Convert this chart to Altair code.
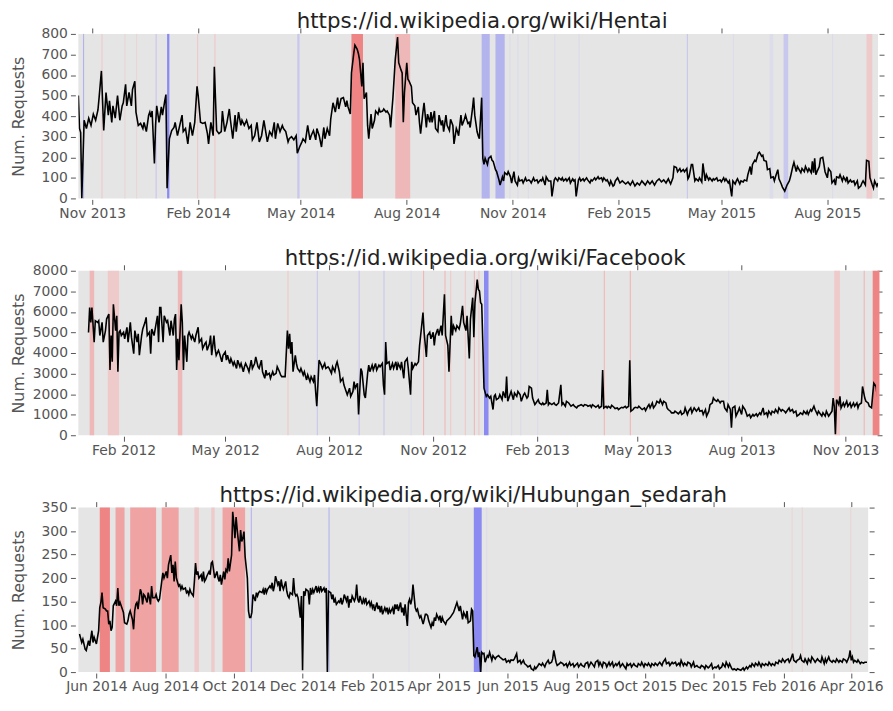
import altair as alt
import pandas as pd

DAY_MS = 86400000

# ---------------- Panel 1 : Hentai ----------------
p1_title = "https://id.wikipedia.org/wiki/Hentai"
p1_start = "2013-10-20"
p1_domain_days = (0, 694)
p1_series = [
    (0,500),(1,340),(2,320),(3,0),(5,380),(7,340),(9,390),(11,355),(13,410),(15,380),(17,430),(18,490),(20,620),
    (22,330),(24,515),(26,405),(27,475),(29,370),(30,450),(32,390),(34,500),(36,380),(38,450),(39,465),(41,555),
    (42,450),(44,515),(46,450),(47,530),(49,570),(50,420),(52,355),(54,365),(56,340),(57,370),(59,325),(61,405),
    (62,420),(63,395),(64,425),(66,170),(67,355),(68,450),(70,370),(72,445),(73,405),(75,475),(76,505),(77,50),
    (79,290),(81,330),(83,345),(84,370),(86,305),(88,355),(90,405),(91,325),(93,340),(95,265),(97,370),(99,305),
    (101,370),(103,545),(104,500),(106,370),(108,365),(110,370),(112,315),(113,265),(115,370),(117,305),(118,640),
    (120,330),(122,315),(124,325),(125,425),(127,325),(129,370),(131,435),(132,380),(134,290),(136,405),(137,325),
    (139,420),(141,355),(142,380),(144,355),(146,380),(148,340),(150,355),(151,285),(153,305),(155,370),(157,275),
    (159,305),(161,380),(162,345),(164,275),(166,325),(168,305),(170,370),(171,290),(173,365),(175,325),(177,355),
    (178,340),(180,325),(182,275),(183,290),(185,300),(187,285),(189,305),(190,220),(192,250),(194,275),(195,290),
    (197,275),(199,355),(201,285),(202,305),(204,330),(206,285),(207,340),(209,305),(211,250),(213,345),(214,290),
    (216,340),(218,305),(219,385),(221,465),(223,420),(225,490),(226,435),(228,485),(230,490),(232,445),(233,475),
    (234,445),(236,410),(237,610),(239,705),(240,745),(242,725),(243,705),(244,675),(246,545),(247,660),(248,485),
    (250,515),(251,355),(252,290),(254,410),(255,340),(257,380),(258,425),(260,410),(261,435),(262,420),(264,425),
    (265,435),(267,420),(268,425),(270,405),(271,345),(272,420),(273,490),(275,675),(277,785),(278,660),(280,625),
    (281,610),(282,370),(283,515),(285,660),(286,580),(287,570),(289,545),(290,465),(292,450),(293,405),(295,445),
    (296,370),(297,315),(299,420),(300,465),(302,345),(303,410),(305,370),(306,420),(307,370),(309,425),(310,340),
    (312,325),(313,405),(315,355),(316,380),(317,325),(319,405),(320,355),(322,330),(323,385),(325,355),(326,265),
    (328,340),(329,325),(330,305),(332,405),(333,355),(335,385),(336,405),(338,365),(339,370),(340,345),(342,435),
    (343,490),(344,405),(346,325),(347,305),(348,290),(350,490),(351,195),(352,165),(353,195),(355,165),(356,195),
    (358,205),(359,185),(360,180),(362,140),(363,130),(365,90),(366,65),(368,105),(369,85),(370,125),(372,115),
    (373,130),(375,105),(376,75),(378,130),(379,85),(381,65),(382,100),(383,85),(385,90),(386,75),(388,100),
    (389,85),(391,90),(392,85),(393,75),(395,100),(396,85),(398,90),(399,75),(401,90),(402,85),(403,100),(405,65),
    (406,105),(408,85),(410,85),(411,10),(413,90),(414,100),(416,85),(417,100),(419,90),(420,100),(421,85),(423,95),
    (424,85),(426,100),(427,75),(429,95),(430,85),(431,90),(432,10),(434,90),(435,100),(436,85),(438,95),(439,85),
    (441,100),(442,90),(444,75),(445,90),(446,85),(448,100),(449,90),(451,105),(452,95),(454,100),(455,85),(456,100),
    (458,85),(459,90),(461,65),(462,85),(464,60),(465,65),(466,85),(468,100),(470,75),(472,85),(475,70),(477,80),
    (479,65),(481,85),(483,60),(485,75),(487,65),(489,85),(492,65),(494,85),(496,70),(498,85),(500,65),(502,85),
    (504,95),(506,80),(508,90),(510,75),(512,95),(514,70),(516,100),(517,155),(519,150),(520,130),(522,145),(523,130),
    (525,140),(526,130),(528,145),(529,95),(530,105),(532,165),(533,165),(535,85),(536,95),(538,85),(539,100),(541,80),
    (542,170),(544,85),(545,115),(547,90),(548,100),(550,85),(551,95),(552,90),(554,100),(555,85),(557,90),(558,80),
    (560,100),(561,85),(562,95),(564,75),(565,85),(567,10),(568,85),(570,70),(571,85),(572,95),(574,70),(575,85),
    (577,80),(578,90),(580,85),(581,115),(583,155),(584,115),(585,165),(587,185),(588,180),(590,220),(591,225),
    (593,205),(594,210),(595,185),(597,180),(598,140),(600,145),(601,100),(603,105),(604,85),(605,105),(607,140),
    (608,95),(610,70),(611,55),(613,35),(614,50),(615,65),(617,85),(618,105),(620,155),(621,175),(623,130),(624,155),
    (626,135),(627,125),(628,145),(630,130),(631,155),(633,130),(634,145),(636,125),(637,180),(638,125),(639,195),
    (640,115),(641,130),(643,155),(644,195),(646,200),(647,165),(648,130),(650,100),(651,145),(653,130),(654,75),
    (656,90),(657,65),(658,105),(660,100),(661,115),(663,85),(664,105),(666,85),(667,105),(668,75),(670,90),(671,80),
    (673,85),(674,65),(676,85),(677,50),(679,60),(680,75),(681,85),(683,65),(684,185),(686,180),(687,100),(689,65),
    (690,50),(691,85),(693,60),(694,75),
]
p1_bands = [
    (4,5,"blue2"),(20,21,"red4"),(40,41,"red5"),(50,51,"red5"),(67,68,"blue3"),(77,79,"blue1"),(103,104,"red4"),
    (118,119,"red4"),(190,192,"blue3"),(237,247,"red1"),(275,288,"red3"),(350,357,"blue2"),(362,370,"blue2"),
    (374,375,"blue4"),(381,382,"blue4"),(390,391,"blue4"),(413,414,"blue4"),(434,435,"blue4"),(528,529,"blue3"),
    (568,569,"blue4"),(600,603,"blue4"),(612,616,"blue3"),(654,655,"blue4"),(684,689,"red4"),
]
p1_xticks = ["2013-11-01","2014-02-01","2014-05-01","2014-08-01","2014-11-01","2015-02-01","2015-05-01","2015-08-01"]
p1_yticks = [0,100,200,300,400,500,600,700,800]

# ---------------- Panel 2 : Facebook ----------------
p2_title = "https://id.wikipedia.org/wiki/Facebook"
p2_start = "2012-01-01"
p2_domain_days = (-9, 697)
p2_series = [
    (0,5000),(1,6210),(2,5490),(3,6210),(5,4530),(6,5570),(8,5490),(9,5570),(10,4850),(12,5490),(13,4530),(15,5090),
    (16,5650),(18,5890),(19,3170),(20,4850),(21,3570),(22,6370),(24,5090),(25,5810),(26,3090),(27,5010),(28,5090),
    (29,4850),(31,5010),(32,4690),(34,5250),(35,4530),(37,5490),(38,4770),(40,3970),(41,5090),(43,4530),(44,4930),
    (45,3890),(47,4850),(48,5170),(50,5490),(51,5730),(52,4850),(54,5010),(55,3970),(56,5170),(58,4850),(59,5170),
    (61,5810),(62,4530),(63,6210),(64,6210),(66,4530),(67,5810),(69,5490),(70,5570),(72,4850),(73,5570),(75,4850),
    (76,5650),(77,5890),(78,3170),(79,4690),(80,3650),(82,6370),(83,5490),(84,3170),(85,4850),(87,3570),(88,4850),
    (89,5010),(91,4690),(92,4850),(94,4530),(95,4850),(97,5250),(98,4530),(100,4690),(101,4210),(103,4450),(104,4530),
    (105,4130),(107,4450),(108,4850),(109,3890),(111,4850),(112,4210),(113,3890),(115,4130),(116,3970),(118,3570),
    (119,3890),(121,4050),(122,3650),(123,3890),(125,3490),(126,3730),(128,3410),(129,3570),(131,3250),(132,3650),
    (134,3330),(135,3490),(137,3090),(138,3330),(139,3490),(141,3250),(142,3090),(144,3650),(145,3250),(147,3490),
    (148,3810),(150,3330),(151,3250),(153,3650),(154,3090),(156,2770),(157,3170),(158,2930),(160,3010),(161,2770),
    (163,3090),(164,2930),(166,3010),(167,3330),(169,3090),(170,2930),(171,2850),(173,2850),(174,2850),(176,5090),
    (177,4210),(178,4930),(179,3970),(180,4530),(181,3090),(183,3890),(184,3490),(185,3250),(187,3090),(188,3250),
    (190,2930),(191,3090),(193,2690),(194,2930),(196,2610),(197,2850),(199,2610),(200,2930),(201,2130),(202,1410),
    (203,2450),(204,3650),(206,3410),(207,3250),(209,3490),(210,3250),(212,3330),(213,3250),(215,3010),(216,3330),
    (218,3090),(219,3410),(220,3570),(222,3090),(223,2610),(225,2770),(226,2450),(228,2130),(229,1970),(231,2290),
    (232,1890),(234,2130),(235,2610),(236,2290),(238,2530),(239,1010),(241,3250),(242,3090),(244,1970),(245,1810),
    (247,3010),(248,3410),(249,3090),(251,3410),(252,3170),(254,3490),(255,3170),(257,3410),(258,3330),(260,3490),
    (261,2450),(262,1970),(263,4530),(264,3490),(266,3570),(267,3170),(269,3490),(270,3250),(272,3570),(273,3170),
    (274,3490),(276,3250),(277,3570),(279,2770),(280,3570),(282,3730),(283,3250),(285,1970),(286,3570),(287,3250),
    (289,3490),(290,3410),(292,3570),(293,4370),(295,5410),(296,5970),(297,5010),(299,3810),(300,4850),(302,5010),
    (303,4690),(305,5010),(306,4370),(307,4850),(309,5170),(310,4850),(312,5330),(313,4850),(315,6850),(316,4850),
    (318,4370),(319,3090),(321,5810),(322,4850),(323,5330),(325,5090),(326,5330),(328,5170),(329,5410),(331,6290),
    (332,5490),(334,5090),(335,5810),(337,3730),(338,5650),(340,6690),(341,4770),(342,6450),(344,7570),(345,7090),
    (346,7010),(347,6450),(348,6370),(349,4370),(350,2290),(352,1890),(353,1970),(355,1810),(356,1890),(358,1250),
    (359,1890),(360,1970),(361,1730),(363,1810),(364,1970),(366,1730),(367,2130),(369,1810),(370,2850),(371,1650),
    (373,1970),(374,2130),(376,1730),(377,2050),(379,1890),(380,2130),(382,1970),(383,1650),(385,1970),(386,2050),
    (388,1810),(389,1890),(390,2370),(392,2290),(393,1810),(395,1490),(396,1570),(398,1730),(399,1570),(401,1490),
    (402,1570),(403,1490),(405,1570),(406,2210),(407,1490),(408,1570),(410,1490),(412,1570),(413,1490),(414,1460),
    (416,1570),(418,2450),(419,1490),(420,1570),(422,1410),(423,1650),(425,1570),(426,1490),(427,1410),(429,1490),
    (430,1410),(432,1330),(433,1410),(435,1460),(436,1490),(438,1410),(439,1490),(441,1460),(442,1410),(444,1460),
    (445,1360),(446,1490),(448,1410),(449,1360),(451,1460),(452,1330),(454,1410),(455,3170),(456,1330),(458,1410),
    (459,1330),(460,1410),(462,1330),(463,1460),(465,1360),(466,1300),(468,1330),(469,1250),(471,1330),(472,1360),
    (473,1330),(475,1410),(476,1330),(478,1410),(479,3650),(480,1170),(482,1250),(483,1330),(484,1360),(486,1330),
    (487,1410),(489,1300),(490,1250),(492,1330),(493,1200),(495,1410),(496,1490),(497,1330),(499,1570),(500,1330),
    (502,1490),(503,1650),(505,1570),(506,1730),(508,1490),(509,1650),(511,1570),(512,1330),(513,1250),(515,1170),
    (516,1090),(518,1090),(519,1170),(521,1090),(522,1040),(524,1170),(525,1010),(527,1090),(528,1330),(530,1010),
    (531,1170),(533,1330),(534,1090),(536,1330),(537,1250),(538,1170),(540,1330),(541,1170),(543,1200),(544,1010),
    (546,1250),(547,930),(549,1170),(550,1490),(552,1570),(553,1810),(554,1730),(556,1650),(557,1730),(559,1570),
    (560,1650),(562,1650),(563,1330),(565,1170),(566,1490),(568,1250),(569,370),(570,1330),(572,1410),(573,930),
    (575,1170),(576,1330),(578,1010),(579,1410),(581,1250),(582,1090),(583,930),(585,1010),(586,850),(588,1010),
    (589,930),(591,1040),(592,930),(594,1090),(595,1010),(597,1330),(598,1010),(600,1090),(601,930),(602,1170),
    (604,1010),(605,1170),(607,1090),(608,1250),(610,1090),(611,1330),(613,1170),(614,1250),(616,1170),(617,1090),
    (619,1250),(620,1330),(621,1170),(623,1250),(624,1090),(626,1170),(627,930),(629,1010),(630,1090),(632,1010),
    (633,1170),(635,1040),(636,1170),(637,1010),(639,1250),(640,1170),(642,1410),(643,1250),(645,1010),(646,1170),
    (648,1010),(649,930),(650,1090),(652,930),(653,1170),(655,930),(656,1010),(658,1170),(659,1810),(660,1410),
    (661,50),(662,1730),(664,1490),(665,1890),(666,1330),(668,1570),(669,1410),(671,1650),(672,1410),(674,1570),
    (675,1360),(677,1570),(678,1410),(680,1570),(681,1330),(682,1490),(684,1570),(685,2370),(687,1810),(688,1650),
    (690,1570),(691,1410),(693,1330),(694,1970),(695,2530),(697,2370),(698,1890),(699,2530),(700,2290),
]
p2_bands = [
    (1,5,"red3"),(17,27,"red4"),(79,83,"red3"),(176,177,"red4"),(202,203,"blue3"),(239,240,"blue3"),(261,262,"blue3"),
    (285,286,"blue4"),(296,297,"red3"),(315,316,"red3"),(320,321,"red4"),(333,334,"red4"),(341,342,"red3"),
    (345,346,"red4"),(350,354,"blue1"),(374,375,"blue4"),(382,383,"blue4"),(397,398,"blue4"),(456,457,"red3"),
    (479,480,"red3"),(566,567,"blue4"),(660,665,"red4"),(686,687,"red3"),(694,700,"red1"),
]
p2_xticks = ["2012-02-01","2012-05-01","2012-08-01","2012-11-01","2013-02-01","2013-05-01","2013-08-01","2013-11-01"]
p2_yticks = [0,1000,2000,3000,4000,5000,6000,7000,8000]

# ---------------- Panel 3 : Hubungan_sedarah ----------------
p3_title = "https://id.wikipedia.org/wiki/Hubungan_sedarah"
p3_start = "2014-05-17"
p3_domain_days = (-1, 700)
p3_series = [
    (0,81),(2,63),(3,70),(5,49),(6,46),(8,67),(9,56),(11,88),(12,63),(13,74),(15,60),(16,74),(17,88),(18,137),
    (19,148),(20,169),(21,137),(23,134),(24,130),(25,130),(26,102),(27,109),(28,88),(29,95),(30,141),(32,151),
    (33,141),(34,179),(35,141),(36,148),(38,134),(39,127),(40,105),(42,102),(43,109),(44,123),(45,130),(47,112),
    (48,91),(49,130),(50,144),(51,148),(52,134),(54,176),(55,169),(56,144),(57,165),(58,162),(60,148),(61,169),
    (62,158),(63,144),(64,183),(65,158),(67,158),(68,165),(69,155),(70,151),(71,155),(73,193),(74,211),(75,200),
    (76,207),(77,214),(78,200),(79,228),(81,249),(82,211),(83,228),(84,193),(85,235),(86,200),(88,183),(89,186),
    (90,176),(91,183),(92,176),(94,179),(95,169),(96,172),(97,165),(98,176),(99,169),(101,162),(102,193),(103,232),
    (104,207),(105,214),(106,200),(108,207),(109,193),(110,214),(111,193),(112,197),(113,204),(115,214),(116,207),
    (117,232),(118,235),(119,218),(120,200),(122,214),(123,200),(124,193),(125,207),(126,186),(128,214),(129,197),
    (130,218),(131,214),(132,242),(133,214),(135,249),(136,341),(137,316),(138,285),(139,330),(140,302),(142,257),
    (143,302),(144,278),(145,285),(146,299),(147,246),(149,200),(150,130),(151,116),(152,116),(153,127),(154,165),
    (156,151),(157,169),(158,162),(159,169),(160,172),(162,169),(163,176),(164,165),(165,179),(166,169),(167,176),
    (169,183),(170,179),(171,190),(172,172),(173,183),(174,204),(176,186),(177,193),(178,172),(179,197),(180,183),
    (181,176),(183,193),(184,172),(185,162),(186,158),(187,169),(189,165),(190,200),(191,169),(192,162),(193,165),
    (194,158),(196,116),(197,162),(198,4),(199,172),(200,162),(201,176),(203,172),(204,144),(205,179),(206,165),
    (207,176),(208,169),(210,183),(211,169),(212,179),(213,172),(214,183),(215,172),(217,179),(218,169),(219,179),
    (220,0),(221,172),(223,169),(224,155),(225,165),(226,148),(227,155),(228,144),(230,151),(231,148),(232,158),
    (233,144),(234,151),(235,165),(237,151),(238,162),(239,137),(240,155),(241,148),(242,162),(244,151),(245,158),
    (246,186),(247,155),(248,148),(249,162),(251,144),(252,155),(253,148),(254,158),(255,144),(257,151),(258,141),
    (259,148),(260,137),(261,144),(262,130),(264,148),(265,134),(266,141),(267,127),(268,141),(269,123),(271,137),
    (272,130),(273,137),(274,123),(275,134),(276,127),(278,137),(279,123),(280,144),(281,134),(282,144),(283,130),
    (285,148),(286,127),(287,137),(288,120),(289,144),(291,98),(292,148),(293,155),(294,144),(295,155),(296,186),
    (298,137),(299,130),(300,134),(301,123),(302,116),(303,120),(305,102),(306,112),(307,123),(308,123),(309,120),
    (310,109),(312,95),(313,105),(314,98),(315,116),(316,109),(317,123),(319,112),(320,120),(321,105),(322,116),
    (323,109),(325,102),(326,109),(329,116),(332,127),(335,148),(337,130),(338,141),(340,112),(341,127),(343,116),
    (344,130),(345,105),(347,109),(348,134),(349,130),(350,35),(351,32),(353,53),(354,32),(355,42),(356,0),(357,42),
    (358,39),(359,40),(360,21),(362,35),(363,32),(364,42),(366,25),(367,35),(369,28),(370,32),(372,35),(373,32),
    (375,28),(376,26),(378,28),(379,21),(381,25),(382,21),(383,26),(385,25),(386,28),(388,39),(389,21),(391,25),
    (392,18),(394,25),(395,18),(397,14),(398,11),(400,14),(401,7),(403,4),(404,11),(405,7),(407,14),(408,18),
    (410,14),(411,19),(413,11),(414,18),(416,25),(417,18),(419,21),(420,28),(421,46),(423,21),(424,14),(426,18),
    (427,21),(429,18),(430,14),(432,18),(433,11),(435,21),(436,14),(438,18),(439,11),(440,14),(442,19),(443,11),
    (445,18),(446,14),(448,11),(449,18),(451,21),(452,11),(454,21),(455,18),(457,11),(458,21),(460,25),(461,14),
    (462,21),(464,11),(465,21),(467,18),(468,11),(470,21),(471,14),(473,21),(474,11),(476,18),(477,14),(479,21),
    (480,11),(482,18),(483,14),(485,7),(486,18),(487,14),(489,18),(490,11),(492,18),(493,14),(495,11),(496,18),
    (498,14),(499,21),(501,11),(502,18),(504,14),(505,19),(507,11),(508,18),(510,14),(511,19),(513,14),(514,18),
    (515,21),(517,14),(518,21),(520,28),(521,18),(523,21),(524,14),(526,21),(527,18),(529,21),(530,14),(532,19),
    (533,14),(534,25),(536,14),(537,19),(539,14),(540,21),(542,18),(543,11),(545,21),(546,11),(548,14),(549,11),
    (551,9),(552,14),(554,11),(555,7),(556,14),(558,9),(559,11),(561,18),(562,7),(564,11),(565,9),(567,14),(568,7),
    (570,11),(571,18),(573,11),(574,21),(576,11),(577,18),(579,7),(580,5),(581,7),(583,4),(584,7),(586,5),(587,4),
    (589,9),(590,4),(592,11),(593,7),(595,14),(596,11),(597,18),(599,12),(600,19),(602,14),(603,21),(605,11),
    (606,18),(608,14),(609,18),(611,14),(612,21),(614,14),(615,18),(617,14),(618,21),(620,18),(621,25),(623,21),
    (624,28),(626,21),(627,25),(629,28),(630,21),(631,25),(633,39),(634,25),(636,21),(637,25),(639,28),(640,35),
    (641,25),(643,21),(644,28),(646,18),(647,28),(649,21),(650,32),(652,25),(653,21),(655,28),(656,25),(658,21),
    (659,32),(661,18),(662,28),(663,21),(665,32),(666,25),(668,21),(669,25),(671,21),(672,28),(674,21),(675,25),
    (677,21),(678,28),(680,25),(681,21),(683,32),(684,46),(685,25),(686,32),(687,21),(688,25),(690,21),(691,26),
    (693,18),(694,21),(696,19),(697,21),(699,21),
]
p3_bands = [
    (18,27,"red1"),(32,40,"red2"),(45,68,"red2"),(73,88,"red2"),(102,106,"red4"),(117,120,"red4"),(127,147,"red2"),
    (152,153,"blue2"),(221,222,"blue2"),(292,293,"blue4"),(350,357,"blue1"),(361,362,"blue4"),(632,633,"red5"),
    (641,642,"red5"),(684,685,"red5"),
]
p3_xticks = ["2014-06-01","2014-08-01","2014-10-01","2014-12-01","2015-02-01","2015-04-01","2015-06-01",
             "2015-08-01","2015-10-01","2015-12-01","2016-02-01","2016-04-01"]
p3_yticks = [0,50,100,150,200,250,300,350]

band_levels = ["red1","red2","red3","red4","red5","blue1","blue2","blue3","blue4"]
band_colors = ["#EE8484","#F0A3A3","#EFB8B8","#EECACA","#E9D6D6","#8A8AF2","#B3B3EE","#C8C8EE","#DCDCEA"]

FONT = "DejaVu Sans"
GREY = "#555555"


def ms(s):
    return int(pd.Timestamp(s).value // 10**6)


def panel(title, start, dom, series, bands, xticks, yticks, width, height, dx):
    base = ms(start)
    line_df = pd.DataFrame({"t": [base + d * DAY_MS for d, _ in series],
                            "v": [v for _, v in series]})
    band_df = pd.DataFrame({"t0": [base + a * DAY_MS for a, _, _ in bands],
                            "t1": [base + b * DAY_MS for _, b, _ in bands],
                            "level": [lv for _, _, lv in bands]})
    xs = alt.Scale(type="utc", domain=[base + dom[0] * DAY_MS, base + dom[1] * DAY_MS], nice=False)
    ys = alt.Scale(domain=[yticks[0], yticks[-1]], nice=False)
    tv = [ms(s) for s in xticks]

    band_layer = alt.Chart(band_df).mark_rect().encode(
        x=alt.X("t0:T", scale=xs, axis=None),
        x2="t1:T",
        color=alt.Color("level:N", scale=alt.Scale(domain=band_levels, range=band_colors), legend=None),
    )
    line_layer = alt.Chart(line_df).mark_line(color="black", strokeWidth=1.6, clip=True).encode(
        x=alt.X("t:T", scale=xs, axis=alt.Axis(values=tv, format="%b %Y", orient="bottom", title=None,
                                               offset=1, labelPadding=2, labelOverlap=False, labelFlush=False)),
        y=alt.Y("v:Q", scale=ys, axis=alt.Axis(values=yticks, format="d", orient="left", title="Num. Requests",
                                               offset=3, labelPadding=3, titleX=-65, titleBaseline="top")),
    )
    mirror_layer = alt.Chart(line_df).mark_line(opacity=0, clip=True).encode(
        x=alt.X("t:T", scale=xs, axis=alt.Axis(values=tv, orient="top", labels=False, title=None, offset=1)),
        y=alt.Y("v:Q", scale=ys, axis=alt.Axis(values=yticks, orient="right", labels=False, title=None, offset=1)),
    )
    return alt.layer(band_layer, line_layer, mirror_layer).resolve_axis(
        x="independent", y="independent"
    ).properties(
        width=width, height=height,
        title=alt.TitleParams(title, fontSize=21.5, font=FONT, fontWeight="normal", color="#222222",
                              offset=-6, dx=dx),
    )


c1 = panel(p1_title, p1_start, p1_domain_days, p1_series, p1_bands, p1_xticks, p1_yticks, 807, 166, 4)
c2 = panel(p2_title, p2_start, p2_domain_days, p2_series, p2_bands, p2_xticks, p2_yticks, 805, 166, 8)
c3 = panel(p3_title, p3_start, p3_domain_days, p3_series, p3_bands, p3_xticks, p3_yticks, 797, 166, 0)

chart = alt.concat(c1, c2, c3, columns=1, spacing=28).properties(
    padding={"left": 2, "top": 0, "right": 0, "bottom": 0}
).configure_view(
    fill="#E5E5E5", stroke=None
).configure_axis(
    labelFont=FONT, labelFontSize=14, labelColor=GREY, tickColor=GREY, tickSize=5, tickWidth=1,
    domain=False, grid=False, titleFont=FONT, titleFontSize=16, titleFontWeight="normal", titleColor=GREY,
)

chart.save("out.html", embed_options={"renderer": "svg", "actions": False})
